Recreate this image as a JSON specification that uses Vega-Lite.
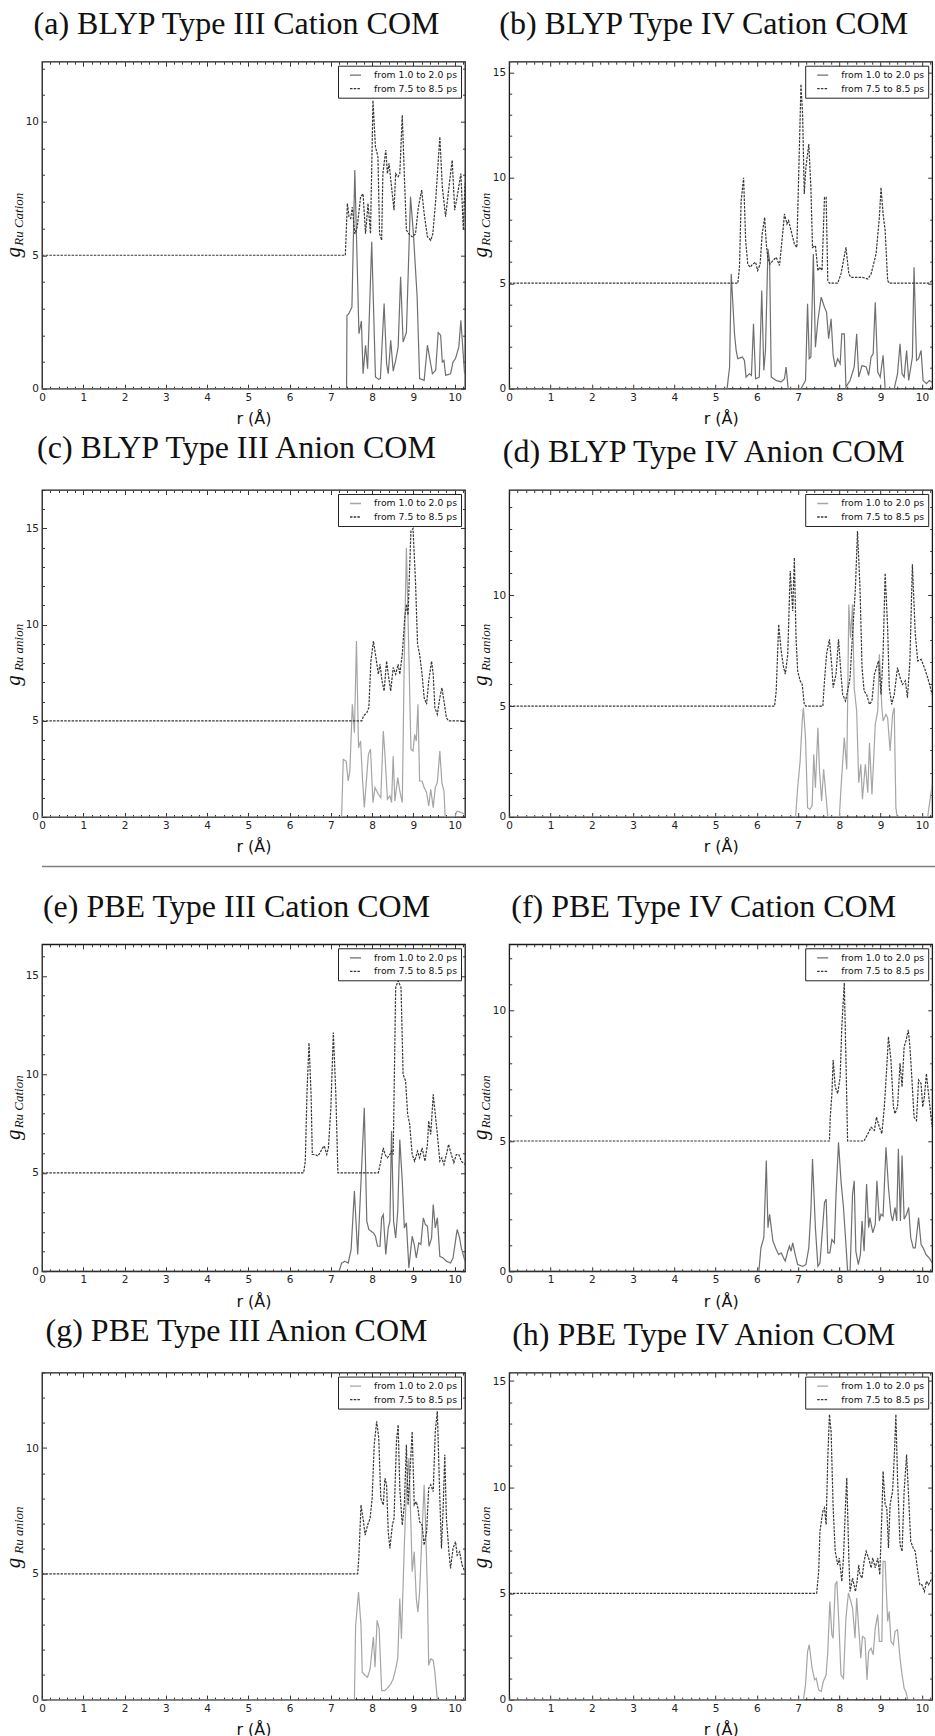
{
"$schema": "https://vega.github.io/schema/vega-lite/v6.json",
"background": "white",
"padding": {"left": 1.0, "top": 6.7, "right": 0, "bottom": 0},
"spacing": 9.8,
"resolve": {"scale": {"color": "independent", "strokeDash": "independent"}, "legend": {"color": "independent", "strokeDash": "independent"}},
"config": {
 "view": {"stroke": "#1a1a1a", "strokeWidth": 1.3},
 "axis": {"grid": false, "domain": false, "labelFont": "DejaVu Sans", "labelFontSize": 10.5, "labelColor": "#222", "tickColor": "#333", "tickWidth": 1, "labelOverlap": false, "labelFlush": false, "titleFont": "DejaVu Sans", "titleFontSize": 16, "titleFontWeight": "normal", "titleColor": "#111"},
 "title": {"font": "Liberation Serif", "fontSize": 32, "fontWeight": "normal", "color": "#111", "anchor": "middle", "frame": "group", "offset": 20, "baseline": "bottom", "dx": -17},
 "legend": {"orient": "top-right", "offset": 4, "padding": 3, "strokeColor": "#222", "fillColor": "#fff", "cornerRadius": 0, "labelFont": "DejaVu Sans", "labelFontSize": 9.3, "labelColor": "#111", "symbolType": "stroke", "symbolSize": 121, "symbolStrokeWidth": 1.3, "rowPadding": 1.5, "symbolOffset": 8, "labelOffset": 12}
},
"datasets": {
"a": [
{"s":"1","r":0,"g":0},{"s":"1","r":7.38,"g":0},{"s":"1","r":7.39,"g":2.75},{"s":"1","r":7.43,"g":2.8},{"s":"1","r":7.51,"g":3.06},{"s":"1","r":7.58,"g":8.19},{"s":"1","r":7.68,"g":2.06},{"s":"1","r":7.74,"g":2.54},{"s":"1","r":7.78,"g":0.56},{"s":"1","r":7.84,"g":1.63},{"s":"1","r":7.89,"g":0.75},{"s":"1","r":7.99,"g":5.5},{"s":"1","r":8.08,"g":0.44},{"s":"1","r":8.16,"g":0.35},{"s":"1","r":8.2,"g":0.38},{"s":"1","r":8.29,"g":3.19},{"s":"1","r":8.35,"g":0.94},{"s":"1","r":8.39,"g":0.56},{"s":"1","r":8.45,"g":1.81},{"s":"1","r":8.51,"g":0.66},{"s":"1","r":8.57,"g":1.06},{"s":"1","r":8.63,"g":1.56},{"s":"1","r":8.69,"g":4.19},{"s":"1","r":8.75,"g":1.75},{"s":"1","r":8.83,"g":2.1},{"s":"1","r":8.93,"g":7.19},{"s":"1","r":9.0,"g":5.8},{"s":"1","r":9.09,"g":3.44},{"s":"1","r":9.15,"g":0.38},{"s":"1","r":9.26,"g":0.31},{"s":"1","r":9.34,"g":1.63},{"s":"1","r":9.46,"g":0.56},{"s":"1","r":9.54,"g":0.69},{"s":"1","r":9.6,"g":2.1},{"s":"1","r":9.66,"g":2.0},{"s":"1","r":9.7,"g":1.0},{"s":"1","r":9.74,"g":1.06},{"s":"1","r":9.78,"g":0.5},{"s":"1","r":9.9,"g":0.56},{"s":"1","r":9.96,"g":1.0},{"s":"1","r":10.02,"g":1.13},{"s":"1","r":10.1,"g":1.56},{"s":"1","r":10.15,"g":2.56},{"s":"1","r":10.24,"g":0.56},
{"s":"2","r":0,"g":5},{"s":"2","r":7.35,"g":5},{"s":"2","r":7.37,"g":5.8},{"s":"2","r":7.4,"g":6.94},{"s":"2","r":7.44,"g":6.44},{"s":"2","r":7.48,"g":6.38},{"s":"2","r":7.52,"g":6.8},{"s":"2","r":7.58,"g":5.8},{"s":"2","r":7.64,"g":6.06},{"s":"2","r":7.72,"g":7.19},{"s":"2","r":7.78,"g":7.3},{"s":"2","r":7.84,"g":5.81},{"s":"2","r":7.9,"g":6.94},{"s":"2","r":7.96,"g":5.81},{"s":"2","r":8.02,"g":10.8},{"s":"2","r":8.08,"g":9.06},{"s":"2","r":8.14,"g":8.69},{"s":"2","r":8.18,"g":5.81},{"s":"2","r":8.23,"g":5.56},{"s":"2","r":8.26,"g":8.06},{"s":"2","r":8.33,"g":8.94},{"s":"2","r":8.37,"g":8.06},{"s":"2","r":8.41,"g":8.44},{"s":"2","r":8.47,"g":7.56},{"s":"2","r":8.53,"g":6.69},{"s":"2","r":8.57,"g":8.06},{"s":"2","r":8.63,"g":7.94},{"s":"2","r":8.67,"g":8.06},{"s":"2","r":8.73,"g":10.25},{"s":"2","r":8.79,"g":7.56},{"s":"2","r":8.83,"g":5.94},{"s":"2","r":8.89,"g":5.8},{"s":"2","r":8.97,"g":5.69},{"s":"2","r":9.05,"g":5.8},{"s":"2","r":9.12,"g":6.8},{"s":"2","r":9.2,"g":7.44},{"s":"2","r":9.26,"g":6.56},{"s":"2","r":9.34,"g":5.69},{"s":"2","r":9.42,"g":5.56},{"s":"2","r":9.47,"g":5.8},{"s":"2","r":9.54,"g":7.06},{"s":"2","r":9.64,"g":9.44},{"s":"2","r":9.7,"g":7.56},{"s":"2","r":9.78,"g":6.44},{"s":"2","r":9.88,"g":7.81},{"s":"2","r":9.94,"g":8.56},{"s":"2","r":10.0,"g":6.69},{"s":"2","r":10.06,"g":7.19},{"s":"2","r":10.15,"g":8.06},{"s":"2","r":10.21,"g":5.94},{"s":"2","r":10.25,"g":7.7}
],
"b": [
{"s":"1","r":0,"g":0},{"s":"1","r":5.28,"g":0},{"s":"1","r":5.34,"g":1.03},{"s":"1","r":5.38,"g":5.44},{"s":"1","r":5.46,"g":2.6},{"s":"1","r":5.5,"g":1.8},{"s":"1","r":5.54,"g":1.42},{"s":"1","r":5.65,"g":1.5},{"s":"1","r":5.7,"g":1.34},{"s":"1","r":5.74,"g":0.55},{"s":"1","r":5.82,"g":0.71},{"s":"1","r":5.87,"g":0.63},{"s":"1","r":5.92,"g":3.08},{"s":"1","r":5.97,"g":0.47},{"s":"1","r":6.06,"g":0.55},{"s":"1","r":6.12,"g":4.65},{"s":"1","r":6.17,"g":0.87},{"s":"1","r":6.21,"g":1.81},{"s":"1","r":6.27,"g":6.62},{"s":"1","r":6.31,"g":6.07},{"s":"1","r":6.35,"g":0.55},{"s":"1","r":6.47,"g":0.39},{"s":"1","r":6.59,"g":0.32},{"s":"1","r":6.67,"g":0.47},{"s":"1","r":6.71,"g":1.03},{"s":"1","r":6.76,"g":0},{"s":"1","r":7.07,"g":0},{"s":"1","r":7.18,"g":0.39},{"s":"1","r":7.23,"g":4.02},{"s":"1","r":7.27,"g":1.42},{"s":"1","r":7.31,"g":1.5},{"s":"1","r":7.37,"g":6.39},{"s":"1","r":7.42,"g":1.97},{"s":"1","r":7.48,"g":3.23},{"s":"1","r":7.56,"g":4.34},{"s":"1","r":7.64,"g":3.86},{"s":"1","r":7.69,"g":3.63},{"s":"1","r":7.74,"g":2.37},{"s":"1","r":7.8,"g":3.31},{"s":"1","r":7.85,"g":1.58},{"s":"1","r":7.9,"g":1.03},{"s":"1","r":7.96,"g":1.42},{"s":"1","r":8.02,"g":1.18},{"s":"1","r":8.06,"g":2.6},{"s":"1","r":8.12,"g":2.6},{"s":"1","r":8.16,"g":0.08},{"s":"1","r":8.26,"g":0.39},{"s":"1","r":8.31,"g":0.71},{"s":"1","r":8.36,"g":1.03},{"s":"1","r":8.42,"g":2.6},{"s":"1","r":8.47,"g":0.55},{"s":"1","r":8.55,"g":1.1},{"s":"1","r":8.65,"g":1.03},{"s":"1","r":8.71,"g":0.63},{"s":"1","r":8.77,"g":1.5},{"s":"1","r":8.82,"g":1.66},{"s":"1","r":8.87,"g":4.1},{"s":"1","r":8.93,"g":0.79},{"s":"1","r":8.99,"g":0.55},{"s":"1","r":9.06,"g":1.58},{"s":"1","r":9.11,"g":0},{"s":"1","r":9.33,"g":0},{"s":"1","r":9.41,"g":0.71},{"s":"1","r":9.47,"g":2.13},{"s":"1","r":9.52,"g":0.71},{"s":"1","r":9.57,"g":0.55},{"s":"1","r":9.63,"g":1.81},{"s":"1","r":9.68,"g":0.39},{"s":"1","r":9.77,"g":1.5},{"s":"1","r":9.81,"g":5.76},{"s":"1","r":9.87,"g":1.34},{"s":"1","r":9.92,"g":1.42},{"s":"1","r":9.98,"g":1.81},{"s":"1","r":10.03,"g":0.39},{"s":"1","r":10.11,"g":0.24},{"s":"1","r":10.18,"g":0.39},{"s":"1","r":10.25,"g":0.3},
{"s":"2","r":0,"g":5},{"s":"2","r":5.54,"g":5},{"s":"2","r":5.58,"g":5.76},{"s":"2","r":5.62,"g":8.9},{"s":"2","r":5.68,"g":10.0},{"s":"2","r":5.73,"g":7.0},{"s":"2","r":5.78,"g":5.91},{"s":"2","r":5.84,"g":5.76},{"s":"2","r":5.9,"g":5.9},{"s":"2","r":5.97,"g":6.0},{"s":"2","r":6.02,"g":5.6},{"s":"2","r":6.08,"g":5.9},{"s":"2","r":6.13,"g":7.33},{"s":"2","r":6.19,"g":8.12},{"s":"2","r":6.23,"g":6.86},{"s":"2","r":6.27,"g":6.15},{"s":"2","r":6.32,"g":5.91},{"s":"2","r":6.39,"g":6.07},{"s":"2","r":6.47,"g":6.23},{"s":"2","r":6.55,"g":5.84},{"s":"2","r":6.61,"g":7.02},{"s":"2","r":6.67,"g":8.28},{"s":"2","r":6.73,"g":7.81},{"s":"2","r":6.77,"g":7.97},{"s":"2","r":6.83,"g":7.49},{"s":"2","r":6.91,"g":6.86},{"s":"2","r":6.97,"g":6.7},{"s":"2","r":7.02,"g":10.5},{"s":"2","r":7.07,"g":14.43},{"s":"2","r":7.11,"g":13.0},{"s":"2","r":7.15,"g":9.23},{"s":"2","r":7.19,"g":10.5},{"s":"2","r":7.26,"g":11.6},{"s":"2","r":7.31,"g":9.54},{"s":"2","r":7.35,"g":6.7},{"s":"2","r":7.42,"g":6.78},{"s":"2","r":7.48,"g":5.6},{"s":"2","r":7.53,"g":5.76},{"s":"2","r":7.58,"g":5.6},{"s":"2","r":7.64,"g":9.07},{"s":"2","r":7.68,"g":9.07},{"s":"2","r":7.72,"g":5.13},{"s":"2","r":7.76,"g":5.0},{"s":"2","r":7.96,"g":5.0},{"s":"2","r":8.04,"g":5.44},{"s":"2","r":8.1,"g":6.07},{"s":"2","r":8.16,"g":6.7},{"s":"2","r":8.23,"g":5.44},{"s":"2","r":8.28,"g":5.28},{"s":"2","r":8.56,"g":5.28},{"s":"2","r":8.69,"g":5.2},{"s":"2","r":8.77,"g":5.44},{"s":"2","r":8.89,"g":6.39},{"s":"2","r":8.97,"g":8.12},{"s":"2","r":9.01,"g":9.54},{"s":"2","r":9.06,"g":8.28},{"s":"2","r":9.11,"g":7.49},{"s":"2","r":9.17,"g":5.13},{"s":"2","r":9.21,"g":5.0},{"s":"2","r":10.18,"g":5.0},{"s":"2","r":10.25,"g":5.13}
],
"c": [
{"s":"1","r":0,"g":0},{"s":"1","r":7.26,"g":0},{"s":"1","r":7.3,"g":3.0},{"s":"1","r":7.37,"g":2.9},{"s":"1","r":7.42,"g":1.87},{"s":"1","r":7.46,"g":2.4},{"s":"1","r":7.52,"g":5.86},{"s":"1","r":7.57,"g":4.38},{"s":"1","r":7.62,"g":9.15},{"s":"1","r":7.67,"g":3.6},{"s":"1","r":7.72,"g":3.95},{"s":"1","r":7.76,"g":2.22},{"s":"1","r":7.81,"g":0.49},{"s":"1","r":7.91,"g":3.26},{"s":"1","r":7.96,"g":3.52},{"s":"1","r":8.02,"g":0.75},{"s":"1","r":8.07,"g":1.53},{"s":"1","r":8.15,"g":1.18},{"s":"1","r":8.21,"g":1.0},{"s":"1","r":8.27,"g":4.47},{"s":"1","r":8.31,"g":3.26},{"s":"1","r":8.37,"g":0.92},{"s":"1","r":8.43,"g":1.1},{"s":"1","r":8.47,"g":0.75},{"s":"1","r":8.51,"g":3.17},{"s":"1","r":8.55,"g":0.83},{"s":"1","r":8.62,"g":2.05},{"s":"1","r":8.67,"g":1.35},{"s":"1","r":8.73,"g":0.75},{"s":"1","r":8.78,"g":8.46},{"s":"1","r":8.83,"g":14.0},{"s":"1","r":8.89,"g":8.46},{"s":"1","r":8.94,"g":3.52},{"s":"1","r":8.99,"g":3.43},{"s":"1","r":9.03,"g":4.3},{"s":"1","r":9.07,"g":3.95},{"s":"1","r":9.11,"g":5.86},{"s":"1","r":9.15,"g":1.87},{"s":"1","r":9.21,"g":1.87},{"s":"1","r":9.26,"g":1.53},{"s":"1","r":9.32,"g":1.27},{"s":"1","r":9.37,"g":0.57},{"s":"1","r":9.42,"g":1.44},{"s":"1","r":9.48,"g":0.49},{"s":"1","r":9.53,"g":1.53},{"s":"1","r":9.58,"g":1.79},{"s":"1","r":9.64,"g":3.43},{"s":"1","r":9.69,"g":1.79},{"s":"1","r":9.74,"g":1.35},{"s":"1","r":9.77,"g":0},{"s":"1","r":10.0,"g":0},{"s":"1","r":10.06,"g":0.31},{"s":"1","r":10.16,"g":0.23},{"s":"1","r":10.25,"g":0.14},
{"s":"2","r":0,"g":5},{"s":"2","r":7.75,"g":5},{"s":"2","r":7.79,"g":5.25},{"s":"2","r":7.87,"g":5.42},{"s":"2","r":7.92,"g":5.68},{"s":"2","r":7.97,"g":8.1},{"s":"2","r":8.03,"g":9.15},{"s":"2","r":8.08,"g":8.46},{"s":"2","r":8.15,"g":7.42},{"s":"2","r":8.19,"g":7.94},{"s":"2","r":8.24,"g":7.07},{"s":"2","r":8.29,"g":6.55},{"s":"2","r":8.35,"g":8.1},{"s":"2","r":8.39,"g":7.42},{"s":"2","r":8.45,"g":6.55},{"s":"2","r":8.51,"g":7.77},{"s":"2","r":8.57,"g":7.42},{"s":"2","r":8.63,"g":7.94},{"s":"2","r":8.67,"g":7.42},{"s":"2","r":8.73,"g":8.46},{"s":"2","r":8.79,"g":10.36},{"s":"2","r":8.83,"g":11.06},{"s":"2","r":8.87,"g":10.5},{"s":"2","r":8.94,"g":14.87},{"s":"2","r":8.99,"g":15.0},{"s":"2","r":9.05,"g":12.27},{"s":"2","r":9.1,"g":8.98},{"s":"2","r":9.15,"g":8.46},{"s":"2","r":9.21,"g":7.42},{"s":"2","r":9.26,"g":6.2},{"s":"2","r":9.32,"g":5.86},{"s":"2","r":9.37,"g":7.07},{"s":"2","r":9.44,"g":8.1},{"s":"2","r":9.48,"g":7.42},{"s":"2","r":9.52,"g":5.68},{"s":"2","r":9.58,"g":5.34},{"s":"2","r":9.64,"g":6.2},{"s":"2","r":9.69,"g":6.72},{"s":"2","r":9.74,"g":6.03},{"s":"2","r":9.8,"g":5.16},{"s":"2","r":9.85,"g":5.0},{"s":"2","r":10.25,"g":5.0}
],
"d": [
{"s":"1","r":0,"g":0},{"s":"1","r":6.94,"g":0},{"s":"1","r":6.99,"g":1.32},{"s":"1","r":7.05,"g":2.53},{"s":"1","r":7.1,"g":4.33},{"s":"1","r":7.13,"g":4.93},{"s":"1","r":7.18,"g":3.58},{"s":"1","r":7.23,"g":0.42},{"s":"1","r":7.29,"g":0.35},{"s":"1","r":7.34,"g":0.5},{"s":"1","r":7.38,"g":2.83},{"s":"1","r":7.42,"g":1.32},{"s":"1","r":7.48,"g":4.03},{"s":"1","r":7.52,"g":2.08},{"s":"1","r":7.57,"g":0.72},{"s":"1","r":7.62,"g":2.15},{"s":"1","r":7.68,"g":0.87},{"s":"1","r":7.72,"g":0},{"s":"1","r":8.0,"g":0},{"s":"1","r":8.04,"g":1.32},{"s":"1","r":8.12,"g":3.58},{"s":"1","r":8.18,"g":2.15},{"s":"1","r":8.23,"g":9.59},{"s":"1","r":8.27,"g":8.09},{"s":"1","r":8.32,"g":9.59},{"s":"1","r":8.36,"g":5.83},{"s":"1","r":8.42,"g":4.78},{"s":"1","r":8.47,"g":1.55},{"s":"1","r":8.52,"g":2.38},{"s":"1","r":8.56,"g":0.8},{"s":"1","r":8.63,"g":2.38},{"s":"1","r":8.69,"g":1.1},{"s":"1","r":8.73,"g":3.35},{"s":"1","r":8.79,"g":1.02},{"s":"1","r":8.83,"g":2.53},{"s":"1","r":8.87,"g":4.18},{"s":"1","r":8.93,"g":4.78},{"s":"1","r":8.97,"g":7.34},{"s":"1","r":9.03,"g":4.93},{"s":"1","r":9.06,"g":4.33},{"s":"1","r":9.13,"g":4.63},{"s":"1","r":9.17,"g":4.48},{"s":"1","r":9.23,"g":2.98},{"s":"1","r":9.29,"g":4.63},{"s":"1","r":9.33,"g":4.93},{"s":"1","r":9.37,"g":0.42},{"s":"1","r":9.4,"g":0},{"s":"1","r":10.14,"g":0},{"s":"1","r":10.25,"g":1.47},
{"s":"2","r":0,"g":5},{"s":"2","r":6.43,"g":5},{"s":"2","r":6.47,"g":5.68},{"s":"2","r":6.53,"g":8.69},{"s":"2","r":6.59,"g":7.49},{"s":"2","r":6.65,"g":6.74},{"s":"2","r":6.69,"g":6.44},{"s":"2","r":6.75,"g":7.34},{"s":"2","r":6.81,"g":11.1},{"s":"2","r":6.87,"g":9.29},{"s":"2","r":6.91,"g":11.7},{"s":"2","r":6.95,"g":8.09},{"s":"2","r":6.99,"g":6.59},{"s":"2","r":7.05,"g":6.14},{"s":"2","r":7.1,"g":5.98},{"s":"2","r":7.15,"g":5.08},{"s":"2","r":7.19,"g":5.0},{"s":"2","r":7.6,"g":5.0},{"s":"2","r":7.64,"g":6.14},{"s":"2","r":7.69,"g":7.34},{"s":"2","r":7.76,"g":8.02},{"s":"2","r":7.82,"g":6.74},{"s":"2","r":7.85,"g":5.83},{"s":"2","r":7.92,"g":6.44},{"s":"2","r":7.98,"g":8.02},{"s":"2","r":8.04,"g":6.44},{"s":"2","r":8.08,"g":5.53},{"s":"2","r":8.15,"g":5.23},{"s":"2","r":8.2,"g":5.68},{"s":"2","r":8.26,"g":6.29},{"s":"2","r":8.32,"g":8.24},{"s":"2","r":8.39,"g":10.35},{"s":"2","r":8.44,"g":12.9},{"s":"2","r":8.5,"g":10.35},{"s":"2","r":8.55,"g":6.74},{"s":"2","r":8.6,"g":5.68},{"s":"2","r":8.66,"g":5.53},{"s":"2","r":8.73,"g":5.08},{"s":"2","r":8.79,"g":5.23},{"s":"2","r":8.85,"g":6.44},{"s":"2","r":8.9,"g":6.74},{"s":"2","r":8.95,"g":7.04},{"s":"2","r":9.01,"g":5.53},{"s":"2","r":9.06,"g":7.34},{"s":"2","r":9.11,"g":11.0},{"s":"2","r":9.17,"g":8.54},{"s":"2","r":9.21,"g":5.83},{"s":"2","r":9.27,"g":5.08},{"s":"2","r":9.33,"g":5.53},{"s":"2","r":9.41,"g":6.74},{"s":"2","r":9.47,"g":6.29},{"s":"2","r":9.53,"g":5.98},{"s":"2","r":9.6,"g":6.14},{"s":"2","r":9.65,"g":5.38},{"s":"2","r":9.71,"g":7.04},{"s":"2","r":9.77,"g":11.4},{"s":"2","r":9.84,"g":8.24},{"s":"2","r":9.9,"g":7.04},{"s":"2","r":9.98,"g":7.11},{"s":"2","r":10.06,"g":6.74},{"s":"2","r":10.14,"g":6.29},{"s":"2","r":10.25,"g":5.53}
],
"e": [
{"s":"1","r":0,"g":0},{"s":"1","r":7.2,"g":0},{"s":"1","r":7.26,"g":0.42},{"s":"1","r":7.34,"g":0.51},{"s":"1","r":7.42,"g":0.42},{"s":"1","r":7.49,"g":1.1},{"s":"1","r":7.57,"g":4.07},{"s":"1","r":7.65,"g":0.85},{"s":"1","r":7.81,"g":8.3},{"s":"1","r":7.87,"g":2.54},{"s":"1","r":7.92,"g":2.12},{"s":"1","r":8.03,"g":1.95},{"s":"1","r":8.08,"g":1.78},{"s":"1","r":8.13,"g":1.27},{"s":"1","r":8.19,"g":1.27},{"s":"1","r":8.23,"g":2.71},{"s":"1","r":8.27,"g":2.88},{"s":"1","r":8.33,"g":0.85},{"s":"1","r":8.39,"g":2.2},{"s":"1","r":8.43,"g":2.54},{"s":"1","r":8.47,"g":7.12},{"s":"1","r":8.52,"g":2.54},{"s":"1","r":8.57,"g":1.69},{"s":"1","r":8.62,"g":3.05},{"s":"1","r":8.67,"g":6.69},{"s":"1","r":8.73,"g":4.58},{"s":"1","r":8.78,"g":2.2},{"s":"1","r":8.83,"g":2.46},{"s":"1","r":8.89,"g":0.17},{"s":"1","r":8.97,"g":1.78},{"s":"1","r":9.02,"g":1.36},{"s":"1","r":9.07,"g":0.68},{"s":"1","r":9.13,"g":1.44},{"s":"1","r":9.18,"g":1.36},{"s":"1","r":9.24,"g":2.71},{"s":"1","r":9.29,"g":2.37},{"s":"1","r":9.34,"g":2.29},{"s":"1","r":9.38,"g":1.27},{"s":"1","r":9.44,"g":1.69},{"s":"1","r":9.48,"g":3.39},{"s":"1","r":9.53,"g":2.2},{"s":"1","r":9.58,"g":2.71},{"s":"1","r":9.64,"g":0.76},{"s":"1","r":9.72,"g":0.68},{"s":"1","r":9.8,"g":0.51},{"s":"1","r":9.9,"g":0.42},{"s":"1","r":9.96,"g":0.68},{"s":"1","r":10.06,"g":2.12},{"s":"1","r":10.12,"g":1.69},{"s":"1","r":10.16,"g":1.19},{"s":"1","r":10.25,"g":0.51},
{"s":"2","r":0,"g":5},{"s":"2","r":6.34,"g":5},{"s":"2","r":6.38,"g":5.59},{"s":"2","r":6.42,"g":8.98},{"s":"2","r":6.47,"g":11.6},{"s":"2","r":6.52,"g":8.98},{"s":"2","r":6.55,"g":5.93},{"s":"2","r":6.62,"g":5.93},{"s":"2","r":6.68,"g":5.85},{"s":"2","r":6.74,"g":6.02},{"s":"2","r":6.8,"g":6.27},{"s":"2","r":6.84,"g":6.36},{"s":"2","r":6.9,"g":5.93},{"s":"2","r":6.94,"g":6.27},{"s":"2","r":7.0,"g":8.3},{"s":"2","r":7.06,"g":12.12},{"s":"2","r":7.12,"g":8.98},{"s":"2","r":7.17,"g":5.0},{"s":"2","r":8.15,"g":5.0},{"s":"2","r":8.21,"g":5.59},{"s":"2","r":8.27,"g":6.27},{"s":"2","r":8.31,"g":5.93},{"s":"2","r":8.37,"g":5.76},{"s":"2","r":8.43,"g":5.93},{"s":"2","r":8.47,"g":6.1},{"s":"2","r":8.51,"g":5.93},{"s":"2","r":8.57,"g":14.4},{"s":"2","r":8.63,"g":14.75},{"s":"2","r":8.7,"g":14.4},{"s":"2","r":8.75,"g":10.0},{"s":"2","r":8.81,"g":9.66},{"s":"2","r":8.86,"g":7.97},{"s":"2","r":8.91,"g":7.46},{"s":"2","r":8.97,"g":5.93},{"s":"2","r":9.03,"g":5.59},{"s":"2","r":9.1,"g":6.1},{"s":"2","r":9.15,"g":5.76},{"s":"2","r":9.21,"g":6.27},{"s":"2","r":9.28,"g":5.59},{"s":"2","r":9.34,"g":6.44},{"s":"2","r":9.37,"g":7.63},{"s":"2","r":9.42,"g":6.95},{"s":"2","r":9.48,"g":8.98},{"s":"2","r":9.53,"g":7.97},{"s":"2","r":9.58,"g":6.95},{"s":"2","r":9.64,"g":5.59},{"s":"2","r":9.69,"g":5.76},{"s":"2","r":9.74,"g":5.42},{"s":"2","r":9.8,"g":5.93},{"s":"2","r":9.85,"g":6.44},{"s":"2","r":9.92,"g":5.93},{"s":"2","r":9.98,"g":5.51},{"s":"2","r":10.04,"g":5.93},{"s":"2","r":10.1,"g":5.93},{"s":"2","r":10.16,"g":5.59},{"s":"2","r":10.25,"g":5.42}
],
"f": [
{"s":"1","r":0,"g":0},{"s":"1","r":6.05,"g":0},{"s":"1","r":6.1,"g":0.9},{"s":"1","r":6.17,"g":1.29},{"s":"1","r":6.23,"g":4.25},{"s":"1","r":6.27,"g":1.67},{"s":"1","r":6.31,"g":2.19},{"s":"1","r":6.35,"g":1.67},{"s":"1","r":6.39,"g":1.16},{"s":"1","r":6.47,"g":0.84},{"s":"1","r":6.53,"g":0.64},{"s":"1","r":6.59,"g":0.71},{"s":"1","r":6.65,"g":0.51},{"s":"1","r":6.69,"g":0.39},{"s":"1","r":6.75,"g":0.77},{"s":"1","r":6.79,"g":0.97},{"s":"1","r":6.83,"g":0.77},{"s":"1","r":6.87,"g":1.09},{"s":"1","r":6.94,"g":0.58},{"s":"1","r":6.99,"g":0.26},{"s":"1","r":7.11,"g":0.19},{"s":"1","r":7.19,"g":0.26},{"s":"1","r":7.26,"g":0.9},{"s":"1","r":7.31,"g":2.32},{"s":"1","r":7.35,"g":4.31},{"s":"1","r":7.42,"g":1.67},{"s":"1","r":7.48,"g":0.19},{"s":"1","r":7.53,"g":0.32},{"s":"1","r":7.6,"g":1.8},{"s":"1","r":7.64,"g":2.64},{"s":"1","r":7.68,"g":2.77},{"s":"1","r":7.72,"g":0.71},{"s":"1","r":7.77,"g":0.71},{"s":"1","r":7.82,"g":1.22},{"s":"1","r":7.88,"g":1.09},{"s":"1","r":7.92,"g":2.96},{"s":"1","r":7.98,"g":4.95},{"s":"1","r":8.04,"g":3.47},{"s":"1","r":8.1,"g":2.45},{"s":"1","r":8.16,"g":1.03},{"s":"1","r":8.2,"g":0},{"s":"1","r":8.26,"g":0},{"s":"1","r":8.32,"g":2.96},{"s":"1","r":8.36,"g":3.47},{"s":"1","r":8.4,"g":0.77},{"s":"1","r":8.46,"g":0.26},{"s":"1","r":8.51,"g":0.64},{"s":"1","r":8.55,"g":1.93},{"s":"1","r":8.6,"g":0.77},{"s":"1","r":8.66,"g":3.35},{"s":"1","r":8.71,"g":1.67},{"s":"1","r":8.74,"g":2.06},{"s":"1","r":8.81,"g":1.48},{"s":"1","r":8.87,"g":1.8},{"s":"1","r":8.91,"g":3.47},{"s":"1","r":8.97,"g":1.93},{"s":"1","r":9.01,"g":2.19},{"s":"1","r":9.06,"g":2.12},{"s":"1","r":9.13,"g":4.76},{"s":"1","r":9.19,"g":3.22},{"s":"1","r":9.25,"g":2.19},{"s":"1","r":9.29,"g":1.93},{"s":"1","r":9.35,"g":2.45},{"s":"1","r":9.39,"g":1.93},{"s":"1","r":9.43,"g":4.7},{"s":"1","r":9.48,"g":1.93},{"s":"1","r":9.52,"g":4.44},{"s":"1","r":9.57,"g":2.0},{"s":"1","r":9.63,"g":2.19},{"s":"1","r":9.68,"g":2.45},{"s":"1","r":9.73,"g":1.29},{"s":"1","r":9.79,"g":0.9},{"s":"1","r":9.84,"g":0.9},{"s":"1","r":9.92,"g":2.06},{"s":"1","r":9.98,"g":1.03},{"s":"1","r":10.03,"g":0.9},{"s":"1","r":10.1,"g":0.64},{"s":"1","r":10.18,"g":0.51},{"s":"1","r":10.25,"g":0.32},
{"s":"2","r":0,"g":5},{"s":"2","r":7.76,"g":5},{"s":"2","r":7.78,"g":5.92},{"s":"2","r":7.82,"g":6.82},{"s":"2","r":7.85,"g":8.11},{"s":"2","r":7.9,"g":7.08},{"s":"2","r":7.96,"g":6.82},{"s":"2","r":8.02,"g":7.46},{"s":"2","r":8.06,"g":9.4},{"s":"2","r":8.12,"g":11.07},{"s":"2","r":8.16,"g":8.11},{"s":"2","r":8.2,"g":5.0},{"s":"2","r":8.6,"g":5.0},{"s":"2","r":8.69,"g":5.28},{"s":"2","r":8.77,"g":5.53},{"s":"2","r":8.85,"g":5.41},{"s":"2","r":8.9,"g":5.92},{"s":"2","r":8.97,"g":5.53},{"s":"2","r":9.03,"g":5.28},{"s":"2","r":9.09,"g":6.31},{"s":"2","r":9.15,"g":7.85},{"s":"2","r":9.19,"g":9.0},{"s":"2","r":9.25,"g":8.11},{"s":"2","r":9.31,"g":6.31},{"s":"2","r":9.35,"g":6.05},{"s":"2","r":9.41,"g":6.31},{"s":"2","r":9.47,"g":7.98},{"s":"2","r":9.52,"g":7.08},{"s":"2","r":9.57,"g":8.62},{"s":"2","r":9.62,"g":8.88},{"s":"2","r":9.67,"g":9.27},{"s":"2","r":9.71,"g":8.62},{"s":"2","r":9.76,"g":7.34},{"s":"2","r":9.81,"g":5.92},{"s":"2","r":9.87,"g":5.79},{"s":"2","r":9.92,"g":7.34},{"s":"2","r":9.98,"g":7.21},{"s":"2","r":10.02,"g":6.31},{"s":"2","r":10.06,"g":6.69},{"s":"2","r":10.11,"g":7.59},{"s":"2","r":10.16,"g":6.82},{"s":"2","r":10.25,"g":5.53}
],
"g": [
{"s":"1","r":0,"g":0},{"s":"1","r":7.57,"g":0},{"s":"1","r":7.6,"g":2.95},{"s":"1","r":7.67,"g":4.28},{"s":"1","r":7.73,"g":2.95},{"s":"1","r":7.76,"g":1.09},{"s":"1","r":7.83,"g":0.96},{"s":"1","r":7.89,"g":0.89},{"s":"1","r":7.95,"g":1.22},{"s":"1","r":8.03,"g":2.49},{"s":"1","r":8.07,"g":1.29},{"s":"1","r":8.12,"g":3.15},{"s":"1","r":8.17,"g":2.82},{"s":"1","r":8.23,"g":0.36},{"s":"1","r":8.31,"g":0.36},{"s":"1","r":8.39,"g":0.49},{"s":"1","r":8.45,"g":0.62},{"s":"1","r":8.51,"g":0.82},{"s":"1","r":8.57,"g":1.22},{"s":"1","r":8.62,"g":1.62},{"s":"1","r":8.67,"g":4.02},{"s":"1","r":8.71,"g":2.42},{"s":"1","r":8.78,"g":6.14},{"s":"1","r":8.83,"g":8.27},{"s":"1","r":8.89,"g":9.6},{"s":"1","r":8.94,"g":6.94},{"s":"1","r":8.97,"g":5.08},{"s":"1","r":9.02,"g":5.88},{"s":"1","r":9.07,"g":4.02},{"s":"1","r":9.11,"g":3.48},{"s":"1","r":9.15,"g":4.28},{"s":"1","r":9.21,"g":6.68},{"s":"1","r":9.26,"g":8.54},{"s":"1","r":9.29,"g":7.2},{"s":"1","r":9.34,"g":4.28},{"s":"1","r":9.37,"g":1.36},{"s":"1","r":9.42,"g":1.62},{"s":"1","r":9.48,"g":1.56},{"s":"1","r":9.52,"g":1.09},{"s":"1","r":9.58,"g":0},{"s":"1","r":10.25,"g":0},
{"s":"2","r":0,"g":5},{"s":"2","r":7.65,"g":5},{"s":"2","r":7.68,"g":5.74},{"s":"2","r":7.73,"g":7.74},{"s":"2","r":7.79,"g":7.07},{"s":"2","r":7.83,"g":6.54},{"s":"2","r":7.89,"g":6.94},{"s":"2","r":7.95,"g":7.2},{"s":"2","r":8.0,"g":8.0},{"s":"2","r":8.05,"g":10.13},{"s":"2","r":8.11,"g":11.06},{"s":"2","r":8.16,"g":10.4},{"s":"2","r":8.21,"g":8.0},{"s":"2","r":8.27,"g":7.74},{"s":"2","r":8.31,"g":8.8},{"s":"2","r":8.35,"g":8.54},{"s":"2","r":8.39,"g":6.68},{"s":"2","r":8.43,"g":6.01},{"s":"2","r":8.49,"g":6.94},{"s":"2","r":8.53,"g":7.2},{"s":"2","r":8.59,"g":10.27},{"s":"2","r":8.63,"g":10.93},{"s":"2","r":8.67,"g":8.4},{"s":"2","r":8.73,"g":6.94},{"s":"2","r":8.78,"g":7.74},{"s":"2","r":8.83,"g":10.13},{"s":"2","r":8.87,"g":7.74},{"s":"2","r":8.91,"g":8.8},{"s":"2","r":8.97,"g":10.66},{"s":"2","r":9.02,"g":7.74},{"s":"2","r":9.07,"g":7.87},{"s":"2","r":9.11,"g":7.6},{"s":"2","r":9.15,"g":7.07},{"s":"2","r":9.21,"g":6.94},{"s":"2","r":9.26,"g":6.14},{"s":"2","r":9.32,"g":6.68},{"s":"2","r":9.37,"g":8.4},{"s":"2","r":9.42,"g":8.54},{"s":"2","r":9.48,"g":8.27},{"s":"2","r":9.53,"g":10.66},{"s":"2","r":9.58,"g":11.46},{"s":"2","r":9.64,"g":8.0},{"s":"2","r":9.68,"g":6.01},{"s":"2","r":9.72,"g":7.6},{"s":"2","r":9.76,"g":9.73},{"s":"2","r":9.8,"g":7.2},{"s":"2","r":9.86,"g":5.88},{"s":"2","r":9.9,"g":5.21},{"s":"2","r":9.96,"g":6.01},{"s":"2","r":10.02,"g":6.28},{"s":"2","r":10.06,"g":5.74},{"s":"2","r":10.12,"g":5.88},{"s":"2","r":10.18,"g":5.35},{"s":"2","r":10.25,"g":5.08}
],
"h": [
{"s":"1","r":0,"g":0},{"s":"1","r":7.13,"g":0},{"s":"1","r":7.18,"g":0.69},{"s":"1","r":7.23,"g":2.26},{"s":"1","r":7.27,"g":2.58},{"s":"1","r":7.34,"g":1.48},{"s":"1","r":7.4,"g":0.93},{"s":"1","r":7.44,"g":1.0},{"s":"1","r":7.5,"g":0.46},{"s":"1","r":7.56,"g":0.38},{"s":"1","r":7.61,"g":0.85},{"s":"1","r":7.68,"g":1.16},{"s":"1","r":7.72,"g":2.26},{"s":"1","r":7.77,"g":4.62},{"s":"1","r":7.82,"g":3.05},{"s":"1","r":7.85,"g":2.89},{"s":"1","r":7.9,"g":5.41},{"s":"1","r":7.94,"g":5.57},{"s":"1","r":7.99,"g":3.52},{"s":"1","r":8.04,"g":1.16},{"s":"1","r":8.1,"g":1.0},{"s":"1","r":8.16,"g":3.84},{"s":"1","r":8.22,"g":5.02},{"s":"1","r":8.28,"g":4.62},{"s":"1","r":8.32,"g":4.31},{"s":"1","r":8.38,"g":2.89},{"s":"1","r":8.42,"g":4.78},{"s":"1","r":8.47,"g":3.36},{"s":"1","r":8.52,"g":1.95},{"s":"1","r":8.56,"g":2.97},{"s":"1","r":8.62,"g":2.89},{"s":"1","r":8.67,"g":0.93},{"s":"1","r":8.71,"g":2.26},{"s":"1","r":8.77,"g":2.42},{"s":"1","r":8.82,"g":2.11},{"s":"1","r":8.87,"g":3.36},{"s":"1","r":8.93,"g":4.0},{"s":"1","r":8.97,"g":2.74},{"s":"1","r":9.03,"g":2.74},{"s":"1","r":9.06,"g":6.51},{"s":"1","r":9.11,"g":6.51},{"s":"1","r":9.17,"g":3.68},{"s":"1","r":9.21,"g":4.15},{"s":"1","r":9.25,"g":2.74},{"s":"1","r":9.31,"g":2.58},{"s":"1","r":9.35,"g":3.21},{"s":"1","r":9.41,"g":3.29},{"s":"1","r":9.47,"g":1.95},{"s":"1","r":9.52,"g":1.16},{"s":"1","r":9.57,"g":0.53},{"s":"1","r":9.61,"g":0.38},{"s":"1","r":9.66,"g":0},{"s":"1","r":10.25,"g":0},
{"s":"2","r":0,"g":5},{"s":"2","r":7.45,"g":5},{"s":"2","r":7.5,"g":6.04},{"s":"2","r":7.53,"g":7.92},{"s":"2","r":7.6,"g":8.87},{"s":"2","r":7.64,"g":9.03},{"s":"2","r":7.68,"g":8.24},{"s":"2","r":7.72,"g":11.38},{"s":"2","r":7.76,"g":13.43},{"s":"2","r":7.8,"g":12.64},{"s":"2","r":7.85,"g":9.03},{"s":"2","r":7.9,"g":6.98},{"s":"2","r":7.96,"g":6.35},{"s":"2","r":8.0,"g":6.67},{"s":"2","r":8.06,"g":5.57},{"s":"2","r":8.1,"g":6.67},{"s":"2","r":8.15,"g":9.18},{"s":"2","r":8.18,"g":10.44},{"s":"2","r":8.23,"g":6.67},{"s":"2","r":8.26,"g":5.09},{"s":"2","r":8.32,"g":5.72},{"s":"2","r":8.39,"g":5.09},{"s":"2","r":8.43,"g":5.57},{"s":"2","r":8.47,"g":6.35},{"s":"2","r":8.5,"g":5.88},{"s":"2","r":8.55,"g":5.72},{"s":"2","r":8.6,"g":6.51},{"s":"2","r":8.65,"g":6.98},{"s":"2","r":8.71,"g":6.67},{"s":"2","r":8.77,"g":6.2},{"s":"2","r":8.81,"g":6.67},{"s":"2","r":8.87,"g":6.2},{"s":"2","r":8.93,"g":6.67},{"s":"2","r":8.98,"g":5.88},{"s":"2","r":9.03,"g":8.71},{"s":"2","r":9.06,"g":10.75},{"s":"2","r":9.11,"g":9.18},{"s":"2","r":9.15,"g":9.03},{"s":"2","r":9.19,"g":7.14},{"s":"2","r":9.23,"g":9.18},{"s":"2","r":9.29,"g":9.81},{"s":"2","r":9.33,"g":11.38},{"s":"2","r":9.37,"g":13.43},{"s":"2","r":9.41,"g":10.44},{"s":"2","r":9.47,"g":7.3},{"s":"2","r":9.52,"g":6.98},{"s":"2","r":9.57,"g":9.81},{"s":"2","r":9.63,"g":11.54},{"s":"2","r":9.68,"g":9.5},{"s":"2","r":9.73,"g":7.45},{"s":"2","r":9.79,"g":7.14},{"s":"2","r":9.84,"g":6.98},{"s":"2","r":9.9,"g":6.04},{"s":"2","r":9.95,"g":5.41},{"s":"2","r":10.0,"g":5.41},{"s":"2","r":10.06,"g":5.09},{"s":"2","r":10.11,"g":5.57},{"s":"2","r":10.16,"g":5.41},{"s":"2","r":10.25,"g":5.72}
]
},
"vconcat": [
{"spacing": 3.3, "resolve": {"scale": {"color": "independent", "strokeDash": "independent"}, "legend": {"color": "independent", "strokeDash": "independent"}},
 "vconcat": [
{"hconcat": [
 {"title": "(a) BLYP Type III Cation COM", "width": 423, "height": 327, "data": {"name": "a"},
  "layer": [
   {"mark": {"type": "line", "clip": true, "strokeWidth": 1.2},
    "encoding": {
     "x": {"field": "r", "type": "quantitative", "scale": {"domain": [0, 10.25], "nice": false, "zero": false}, "axis": {"orient": "bottom", "title": "r (Å)", "tickCount": 51, "labelExpr": "datum.value % 1 === 0 ? '' + datum.value : ''", "tickSize": {"condition": {"test": "datum.value % 1 === 0", "value": -4.5}, "value": -2.5}, "labelPadding": 8, "titlePadding": 6}},
     "y": {"field": "g", "type": "quantitative", "scale": {"domain": [0, 12.25], "nice": false}, "axis": {"orient": "left", "title": "g", "tickCount": 15, "labelExpr": "datum.value % 5 === 0 ? '' + datum.value : ''", "tickSize": {"condition": {"test": "datum.value % 5 === 0", "value": -4.5}, "value": -2.5}, "labelPadding": 8, "titleFont": "Liberation Serif", "titleFontStyle": "italic", "titleFontSize": 21, "titleAngle": 270, "titleAlign": "center", "titleBaseline": "alphabetic", "titleX": -22.7, "titleY": 190}},
     "color": {"field": "s", "type": "nominal", "scale": {"domain": ["1", "2"], "range": ["#6f6f6f", "#363636"]}, "legend": {"title": null, "labelExpr": "datum.value == '1' ? 'from 1.0 to 2.0 ps' : 'from 7.5 to 8.5 ps'"}},
     "strokeDash": {"field": "s", "type": "nominal", "scale": {"domain": ["1", "2"], "range": [[1, 0], [2.5, 1.2]]}, "legend": {"title": null, "labelExpr": "datum.value == '1' ? 'from 1.0 to 2.0 ps' : 'from 7.5 to 8.5 ps'"}}
    }},
   {"data": {"values": [{}]}, "mark": {"type": "point", "opacity": 0, "size": 1},
    "encoding": {"x": {"datum": 0, "type": "quantitative", "axis": {"orient": "top", "title": null, "tickCount": 51, "labels": false, "tickSize": {"condition": {"test": "datum.value % 1 === 0", "value": -4.5}, "value": -2.5}}},
                 "y": {"datum": 0, "type": "quantitative", "axis": {"orient": "right", "title": null, "tickCount": 15, "labels": false, "tickSize": {"condition": {"test": "datum.value % 5 === 0", "value": -4.5}, "value": -2.5}}}}},
   {"data": {"values": [{}]}, "mark": {"type": "point", "opacity": 0, "size": 1},
    "encoding": {"y": {"datum": 0, "type": "quantitative", "axis": {"orient": "left", "title": "Ru Cation", "labels": false, "ticks": false, "domain": false, "titleFont": "Liberation Serif", "titleFontStyle": "italic", "titleFontSize": 13, "titleAngle": 270, "titleAlign": "center", "titleBaseline": "alphabetic", "titleX": -19.7, "titleY": 157}}}}
  ],
  "resolve": {"axis": {"x": "independent", "y": "independent"}}
 },
 {"title": "(b) BLYP Type IV Cation COM", "width": 423, "height": 327, "data": {"name": "b"},
  "layer": [
   {"mark": {"type": "line", "clip": true, "strokeWidth": 1.2},
    "encoding": {
     "x": {"field": "r", "type": "quantitative", "scale": {"domain": [0, 10.25], "nice": false, "zero": false}, "axis": {"orient": "bottom", "title": "r (Å)", "tickCount": 51, "labelExpr": "datum.value % 1 === 0 ? '' + datum.value : ''", "tickSize": {"condition": {"test": "datum.value % 1 === 0", "value": -4.5}, "value": -2.5}, "labelPadding": 8, "titlePadding": 6}},
     "y": {"field": "g", "type": "quantitative", "scale": {"domain": [0, 15.5], "nice": false}, "axis": {"orient": "left", "title": "g", "tickCount": 15, "labelExpr": "datum.value % 5 === 0 ? '' + datum.value : ''", "tickSize": {"condition": {"test": "datum.value % 5 === 0", "value": -4.5}, "value": -2.5}, "labelPadding": 8, "titleFont": "Liberation Serif", "titleFontStyle": "italic", "titleFontSize": 21, "titleAngle": 270, "titleAlign": "center", "titleBaseline": "alphabetic", "titleX": -22.7, "titleY": 190}},
     "color": {"field": "s", "type": "nominal", "scale": {"domain": ["1", "2"], "range": ["#6f6f6f", "#363636"]}, "legend": {"title": null, "labelExpr": "datum.value == '1' ? 'from 1.0 to 2.0 ps' : 'from 7.5 to 8.5 ps'"}},
     "strokeDash": {"field": "s", "type": "nominal", "scale": {"domain": ["1", "2"], "range": [[1, 0], [2.5, 1.2]]}, "legend": {"title": null, "labelExpr": "datum.value == '1' ? 'from 1.0 to 2.0 ps' : 'from 7.5 to 8.5 ps'"}}
    }},
   {"data": {"values": [{}]}, "mark": {"type": "point", "opacity": 0, "size": 1},
    "encoding": {"x": {"datum": 0, "type": "quantitative", "axis": {"orient": "top", "title": null, "tickCount": 51, "labels": false, "tickSize": {"condition": {"test": "datum.value % 1 === 0", "value": -4.5}, "value": -2.5}}},
                 "y": {"datum": 0, "type": "quantitative", "axis": {"orient": "right", "title": null, "tickCount": 15, "labels": false, "tickSize": {"condition": {"test": "datum.value % 5 === 0", "value": -4.5}, "value": -2.5}}}}},
   {"data": {"values": [{}]}, "mark": {"type": "point", "opacity": 0, "size": 1},
    "encoding": {"y": {"datum": 0, "type": "quantitative", "axis": {"orient": "left", "title": "Ru Cation", "labels": false, "ticks": false, "domain": false, "titleFont": "Liberation Serif", "titleFontStyle": "italic", "titleFontSize": 13, "titleAngle": 270, "titleAlign": "center", "titleBaseline": "alphabetic", "titleX": -19.7, "titleY": 157}}}}
  ],
  "resolve": {"axis": {"x": "independent", "y": "independent"}}
 }
], "spacing": 1.2, "resolve": {"scale": {"color": "independent", "strokeDash": "independent"}, "legend": {"color": "independent", "strokeDash": "independent"}}},
{"hconcat": [
 {"title": "(c) BLYP Type III Anion COM", "width": 423, "height": 327, "data": {"name": "c"},
  "layer": [
   {"mark": {"type": "line", "clip": true, "strokeWidth": 1.2},
    "encoding": {
     "x": {"field": "r", "type": "quantitative", "scale": {"domain": [0, 10.25], "nice": false, "zero": false}, "axis": {"orient": "bottom", "title": "r (Å)", "tickCount": 51, "labelExpr": "datum.value % 1 === 0 ? '' + datum.value : ''", "tickSize": {"condition": {"test": "datum.value % 1 === 0", "value": -4.5}, "value": -2.5}, "labelPadding": 8, "titlePadding": 6}},
     "y": {"field": "g", "type": "quantitative", "scale": {"domain": [0, 17], "nice": false}, "axis": {"orient": "left", "title": "g", "tickCount": 15, "labelExpr": "datum.value % 5 === 0 ? '' + datum.value : ''", "tickSize": {"condition": {"test": "datum.value % 5 === 0", "value": -4.5}, "value": -2.5}, "labelPadding": 8, "titleFont": "Liberation Serif", "titleFontStyle": "italic", "titleFontSize": 21, "titleAngle": 270, "titleAlign": "center", "titleBaseline": "alphabetic", "titleX": -22.7, "titleY": 190}},
     "color": {"field": "s", "type": "nominal", "scale": {"domain": ["1", "2"], "range": ["#a5a5a5", "#363636"]}, "legend": {"title": null, "labelExpr": "datum.value == '1' ? 'from 1.0 to 2.0 ps' : 'from 7.5 to 8.5 ps'"}},
     "strokeDash": {"field": "s", "type": "nominal", "scale": {"domain": ["1", "2"], "range": [[1, 0], [2.5, 1.2]]}, "legend": {"title": null, "labelExpr": "datum.value == '1' ? 'from 1.0 to 2.0 ps' : 'from 7.5 to 8.5 ps'"}}
    }},
   {"data": {"values": [{}]}, "mark": {"type": "point", "opacity": 0, "size": 1},
    "encoding": {"x": {"datum": 0, "type": "quantitative", "axis": {"orient": "top", "title": null, "tickCount": 51, "labels": false, "tickSize": {"condition": {"test": "datum.value % 1 === 0", "value": -4.5}, "value": -2.5}}},
                 "y": {"datum": 0, "type": "quantitative", "axis": {"orient": "right", "title": null, "tickCount": 15, "labels": false, "tickSize": {"condition": {"test": "datum.value % 5 === 0", "value": -4.5}, "value": -2.5}}}}},
   {"data": {"values": [{}]}, "mark": {"type": "point", "opacity": 0, "size": 1},
    "encoding": {"y": {"datum": 0, "type": "quantitative", "axis": {"orient": "left", "title": "Ru anion", "labels": false, "ticks": false, "domain": false, "titleFont": "Liberation Serif", "titleFontStyle": "italic", "titleFontSize": 13, "titleAngle": 270, "titleAlign": "center", "titleBaseline": "alphabetic", "titleX": -19.7, "titleY": 157}}}}
  ],
  "resolve": {"axis": {"x": "independent", "y": "independent"}}
 },
 {"title": "(d) BLYP Type IV Anion COM", "width": 423, "height": 327, "data": {"name": "d"},
  "layer": [
   {"mark": {"type": "line", "clip": true, "strokeWidth": 1.2},
    "encoding": {
     "x": {"field": "r", "type": "quantitative", "scale": {"domain": [0, 10.25], "nice": false, "zero": false}, "axis": {"orient": "bottom", "title": "r (Å)", "tickCount": 51, "labelExpr": "datum.value % 1 === 0 ? '' + datum.value : ''", "tickSize": {"condition": {"test": "datum.value % 1 === 0", "value": -4.5}, "value": -2.5}, "labelPadding": 8, "titlePadding": 6}},
     "y": {"field": "g", "type": "quantitative", "scale": {"domain": [0, 14.75], "nice": false}, "axis": {"orient": "left", "title": "g", "tickCount": 15, "labelExpr": "datum.value % 5 === 0 ? '' + datum.value : ''", "tickSize": {"condition": {"test": "datum.value % 5 === 0", "value": -4.5}, "value": -2.5}, "labelPadding": 8, "titleFont": "Liberation Serif", "titleFontStyle": "italic", "titleFontSize": 21, "titleAngle": 270, "titleAlign": "center", "titleBaseline": "alphabetic", "titleX": -22.7, "titleY": 190}},
     "color": {"field": "s", "type": "nominal", "scale": {"domain": ["1", "2"], "range": ["#a5a5a5", "#363636"]}, "legend": {"title": null, "labelExpr": "datum.value == '1' ? 'from 1.0 to 2.0 ps' : 'from 7.5 to 8.5 ps'"}},
     "strokeDash": {"field": "s", "type": "nominal", "scale": {"domain": ["1", "2"], "range": [[1, 0], [2.5, 1.2]]}, "legend": {"title": null, "labelExpr": "datum.value == '1' ? 'from 1.0 to 2.0 ps' : 'from 7.5 to 8.5 ps'"}}
    }},
   {"data": {"values": [{}]}, "mark": {"type": "point", "opacity": 0, "size": 1},
    "encoding": {"x": {"datum": 0, "type": "quantitative", "axis": {"orient": "top", "title": null, "tickCount": 51, "labels": false, "tickSize": {"condition": {"test": "datum.value % 1 === 0", "value": -4.5}, "value": -2.5}}},
                 "y": {"datum": 0, "type": "quantitative", "axis": {"orient": "right", "title": null, "tickCount": 15, "labels": false, "tickSize": {"condition": {"test": "datum.value % 5 === 0", "value": -4.5}, "value": -2.5}}}}},
   {"data": {"values": [{}]}, "mark": {"type": "point", "opacity": 0, "size": 1},
    "encoding": {"y": {"datum": 0, "type": "quantitative", "axis": {"orient": "left", "title": "Ru anion", "labels": false, "ticks": false, "domain": false, "titleFont": "Liberation Serif", "titleFontStyle": "italic", "titleFontSize": 13, "titleAngle": 270, "titleAlign": "center", "titleBaseline": "alphabetic", "titleX": -19.7, "titleY": 157}}}}
  ],
  "resolve": {"axis": {"x": "independent", "y": "independent"}}
 }
], "spacing": 1.2, "resolve": {"scale": {"color": "independent", "strokeDash": "independent"}, "legend": {"color": "independent", "strokeDash": "independent"}}}
]},
{"width": 934, "height": 12.5, "data": {"values": [{}]}, "view": {"stroke": null},
 "layer": [
  {"mark": {"type": "rule", "color": "#808080", "strokeWidth": 1.6}, "encoding": {"y": {"datum": 1, "type": "quantitative", "scale": {"domain": [0, 1]}, "axis": null}}},
  {"mark": {"type": "rule", "color": "#808080", "strokeWidth": 1.6, "opacity": 0}, "encoding": {"y": {"datum": 0, "type": "quantitative", "axis": null}}}
 ]},
{"spacing": 3.3, "resolve": {"scale": {"color": "independent", "strokeDash": "independent"}, "legend": {"color": "independent", "strokeDash": "independent"}},
 "vconcat": [
{"hconcat": [
 {"title": "(e) PBE Type III Cation COM", "width": 423, "height": 327, "data": {"name": "e"},
  "layer": [
   {"mark": {"type": "line", "clip": true, "strokeWidth": 1.2},
    "encoding": {
     "x": {"field": "r", "type": "quantitative", "scale": {"domain": [0, 10.25], "nice": false, "zero": false}, "axis": {"orient": "bottom", "title": "r (Å)", "tickCount": 51, "labelExpr": "datum.value % 1 === 0 ? '' + datum.value : ''", "tickSize": {"condition": {"test": "datum.value % 1 === 0", "value": -4.5}, "value": -2.5}, "labelPadding": 8, "titlePadding": 6}},
     "y": {"field": "g", "type": "quantitative", "scale": {"domain": [0, 16.6], "nice": false}, "axis": {"orient": "left", "title": "g", "tickCount": 15, "labelExpr": "datum.value % 5 === 0 ? '' + datum.value : ''", "tickSize": {"condition": {"test": "datum.value % 5 === 0", "value": -4.5}, "value": -2.5}, "labelPadding": 8, "titleFont": "Liberation Serif", "titleFontStyle": "italic", "titleFontSize": 21, "titleAngle": 270, "titleAlign": "center", "titleBaseline": "alphabetic", "titleX": -22.7, "titleY": 190}},
     "color": {"field": "s", "type": "nominal", "scale": {"domain": ["1", "2"], "range": ["#6f6f6f", "#363636"]}, "legend": {"title": null, "labelExpr": "datum.value == '1' ? 'from 1.0 to 2.0 ps' : 'from 7.5 to 8.5 ps'"}},
     "strokeDash": {"field": "s", "type": "nominal", "scale": {"domain": ["1", "2"], "range": [[1, 0], [2.5, 1.2]]}, "legend": {"title": null, "labelExpr": "datum.value == '1' ? 'from 1.0 to 2.0 ps' : 'from 7.5 to 8.5 ps'"}}
    }},
   {"data": {"values": [{}]}, "mark": {"type": "point", "opacity": 0, "size": 1},
    "encoding": {"x": {"datum": 0, "type": "quantitative", "axis": {"orient": "top", "title": null, "tickCount": 51, "labels": false, "tickSize": {"condition": {"test": "datum.value % 1 === 0", "value": -4.5}, "value": -2.5}}},
                 "y": {"datum": 0, "type": "quantitative", "axis": {"orient": "right", "title": null, "tickCount": 15, "labels": false, "tickSize": {"condition": {"test": "datum.value % 5 === 0", "value": -4.5}, "value": -2.5}}}}},
   {"data": {"values": [{}]}, "mark": {"type": "point", "opacity": 0, "size": 1},
    "encoding": {"y": {"datum": 0, "type": "quantitative", "axis": {"orient": "left", "title": "Ru Cation", "labels": false, "ticks": false, "domain": false, "titleFont": "Liberation Serif", "titleFontStyle": "italic", "titleFontSize": 13, "titleAngle": 270, "titleAlign": "center", "titleBaseline": "alphabetic", "titleX": -19.7, "titleY": 157}}}}
  ],
  "resolve": {"axis": {"x": "independent", "y": "independent"}}
 },
 {"title": "(f) PBE Type IV Cation COM", "width": 423, "height": 327, "data": {"name": "f"},
  "layer": [
   {"mark": {"type": "line", "clip": true, "strokeWidth": 1.2},
    "encoding": {
     "x": {"field": "r", "type": "quantitative", "scale": {"domain": [0, 10.25], "nice": false, "zero": false}, "axis": {"orient": "bottom", "title": "r (Å)", "tickCount": 51, "labelExpr": "datum.value % 1 === 0 ? '' + datum.value : ''", "tickSize": {"condition": {"test": "datum.value % 1 === 0", "value": -4.5}, "value": -2.5}, "labelPadding": 8, "titlePadding": 6}},
     "y": {"field": "g", "type": "quantitative", "scale": {"domain": [0, 12.55], "nice": false}, "axis": {"orient": "left", "title": "g", "tickCount": 15, "labelExpr": "datum.value % 5 === 0 ? '' + datum.value : ''", "tickSize": {"condition": {"test": "datum.value % 5 === 0", "value": -4.5}, "value": -2.5}, "labelPadding": 8, "titleFont": "Liberation Serif", "titleFontStyle": "italic", "titleFontSize": 21, "titleAngle": 270, "titleAlign": "center", "titleBaseline": "alphabetic", "titleX": -22.7, "titleY": 190}},
     "color": {"field": "s", "type": "nominal", "scale": {"domain": ["1", "2"], "range": ["#6f6f6f", "#363636"]}, "legend": {"title": null, "labelExpr": "datum.value == '1' ? 'from 1.0 to 2.0 ps' : 'from 7.5 to 8.5 ps'"}},
     "strokeDash": {"field": "s", "type": "nominal", "scale": {"domain": ["1", "2"], "range": [[1, 0], [2.5, 1.2]]}, "legend": {"title": null, "labelExpr": "datum.value == '1' ? 'from 1.0 to 2.0 ps' : 'from 7.5 to 8.5 ps'"}}
    }},
   {"data": {"values": [{}]}, "mark": {"type": "point", "opacity": 0, "size": 1},
    "encoding": {"x": {"datum": 0, "type": "quantitative", "axis": {"orient": "top", "title": null, "tickCount": 51, "labels": false, "tickSize": {"condition": {"test": "datum.value % 1 === 0", "value": -4.5}, "value": -2.5}}},
                 "y": {"datum": 0, "type": "quantitative", "axis": {"orient": "right", "title": null, "tickCount": 15, "labels": false, "tickSize": {"condition": {"test": "datum.value % 5 === 0", "value": -4.5}, "value": -2.5}}}}},
   {"data": {"values": [{}]}, "mark": {"type": "point", "opacity": 0, "size": 1},
    "encoding": {"y": {"datum": 0, "type": "quantitative", "axis": {"orient": "left", "title": "Ru Cation", "labels": false, "ticks": false, "domain": false, "titleFont": "Liberation Serif", "titleFontStyle": "italic", "titleFontSize": 13, "titleAngle": 270, "titleAlign": "center", "titleBaseline": "alphabetic", "titleX": -19.7, "titleY": 157}}}}
  ],
  "resolve": {"axis": {"x": "independent", "y": "independent"}}
 }
], "spacing": 1.2, "resolve": {"scale": {"color": "independent", "strokeDash": "independent"}, "legend": {"color": "independent", "strokeDash": "independent"}}},
{"hconcat": [
 {"title": "(g) PBE Type III Anion COM", "width": 423, "height": 327, "data": {"name": "g"},
  "layer": [
   {"mark": {"type": "line", "clip": true, "strokeWidth": 1.2},
    "encoding": {
     "x": {"field": "r", "type": "quantitative", "scale": {"domain": [0, 10.25], "nice": false, "zero": false}, "axis": {"orient": "bottom", "title": "r (Å)", "tickCount": 51, "labelExpr": "datum.value % 1 === 0 ? '' + datum.value : ''", "tickSize": {"condition": {"test": "datum.value % 1 === 0", "value": -4.5}, "value": -2.5}, "labelPadding": 8, "titlePadding": 6}},
     "y": {"field": "g", "type": "quantitative", "scale": {"domain": [0, 13], "nice": false}, "axis": {"orient": "left", "title": "g", "tickCount": 15, "labelExpr": "datum.value % 5 === 0 ? '' + datum.value : ''", "tickSize": {"condition": {"test": "datum.value % 5 === 0", "value": -4.5}, "value": -2.5}, "labelPadding": 8, "titleFont": "Liberation Serif", "titleFontStyle": "italic", "titleFontSize": 21, "titleAngle": 270, "titleAlign": "center", "titleBaseline": "alphabetic", "titleX": -22.7, "titleY": 190}},
     "color": {"field": "s", "type": "nominal", "scale": {"domain": ["1", "2"], "range": ["#a5a5a5", "#363636"]}, "legend": {"title": null, "labelExpr": "datum.value == '1' ? 'from 1.0 to 2.0 ps' : 'from 7.5 to 8.5 ps'"}},
     "strokeDash": {"field": "s", "type": "nominal", "scale": {"domain": ["1", "2"], "range": [[1, 0], [2.5, 1.2]]}, "legend": {"title": null, "labelExpr": "datum.value == '1' ? 'from 1.0 to 2.0 ps' : 'from 7.5 to 8.5 ps'"}}
    }},
   {"data": {"values": [{}]}, "mark": {"type": "point", "opacity": 0, "size": 1},
    "encoding": {"x": {"datum": 0, "type": "quantitative", "axis": {"orient": "top", "title": null, "tickCount": 51, "labels": false, "tickSize": {"condition": {"test": "datum.value % 1 === 0", "value": -4.5}, "value": -2.5}}},
                 "y": {"datum": 0, "type": "quantitative", "axis": {"orient": "right", "title": null, "tickCount": 15, "labels": false, "tickSize": {"condition": {"test": "datum.value % 5 === 0", "value": -4.5}, "value": -2.5}}}}},
   {"data": {"values": [{}]}, "mark": {"type": "point", "opacity": 0, "size": 1},
    "encoding": {"y": {"datum": 0, "type": "quantitative", "axis": {"orient": "left", "title": "Ru anion", "labels": false, "ticks": false, "domain": false, "titleFont": "Liberation Serif", "titleFontStyle": "italic", "titleFontSize": 13, "titleAngle": 270, "titleAlign": "center", "titleBaseline": "alphabetic", "titleX": -19.7, "titleY": 157}}}}
  ],
  "resolve": {"axis": {"x": "independent", "y": "independent"}}
 },
 {"title": "(h) PBE Type IV Anion COM", "width": 423, "height": 327, "data": {"name": "h"},
  "layer": [
   {"mark": {"type": "line", "clip": true, "strokeWidth": 1.2},
    "encoding": {
     "x": {"field": "r", "type": "quantitative", "scale": {"domain": [0, 10.25], "nice": false, "zero": false}, "axis": {"orient": "bottom", "title": "r (Å)", "tickCount": 51, "labelExpr": "datum.value % 1 === 0 ? '' + datum.value : ''", "tickSize": {"condition": {"test": "datum.value % 1 === 0", "value": -4.5}, "value": -2.5}, "labelPadding": 8, "titlePadding": 6}},
     "y": {"field": "g", "type": "quantitative", "scale": {"domain": [0, 15.4], "nice": false}, "axis": {"orient": "left", "title": "g", "tickCount": 15, "labelExpr": "datum.value % 5 === 0 ? '' + datum.value : ''", "tickSize": {"condition": {"test": "datum.value % 5 === 0", "value": -4.5}, "value": -2.5}, "labelPadding": 8, "titleFont": "Liberation Serif", "titleFontStyle": "italic", "titleFontSize": 21, "titleAngle": 270, "titleAlign": "center", "titleBaseline": "alphabetic", "titleX": -22.7, "titleY": 190}},
     "color": {"field": "s", "type": "nominal", "scale": {"domain": ["1", "2"], "range": ["#a5a5a5", "#363636"]}, "legend": {"title": null, "labelExpr": "datum.value == '1' ? 'from 1.0 to 2.0 ps' : 'from 7.5 to 8.5 ps'"}},
     "strokeDash": {"field": "s", "type": "nominal", "scale": {"domain": ["1", "2"], "range": [[1, 0], [2.5, 1.2]]}, "legend": {"title": null, "labelExpr": "datum.value == '1' ? 'from 1.0 to 2.0 ps' : 'from 7.5 to 8.5 ps'"}}
    }},
   {"data": {"values": [{}]}, "mark": {"type": "point", "opacity": 0, "size": 1},
    "encoding": {"x": {"datum": 0, "type": "quantitative", "axis": {"orient": "top", "title": null, "tickCount": 51, "labels": false, "tickSize": {"condition": {"test": "datum.value % 1 === 0", "value": -4.5}, "value": -2.5}}},
                 "y": {"datum": 0, "type": "quantitative", "axis": {"orient": "right", "title": null, "tickCount": 15, "labels": false, "tickSize": {"condition": {"test": "datum.value % 5 === 0", "value": -4.5}, "value": -2.5}}}}},
   {"data": {"values": [{}]}, "mark": {"type": "point", "opacity": 0, "size": 1},
    "encoding": {"y": {"datum": 0, "type": "quantitative", "axis": {"orient": "left", "title": "Ru anion", "labels": false, "ticks": false, "domain": false, "titleFont": "Liberation Serif", "titleFontStyle": "italic", "titleFontSize": 13, "titleAngle": 270, "titleAlign": "center", "titleBaseline": "alphabetic", "titleX": -19.7, "titleY": 157}}}}
  ],
  "resolve": {"axis": {"x": "independent", "y": "independent"}}
 }
], "spacing": 1.2, "resolve": {"scale": {"color": "independent", "strokeDash": "independent"}, "legend": {"color": "independent", "strokeDash": "independent"}}}
]}
]
}
